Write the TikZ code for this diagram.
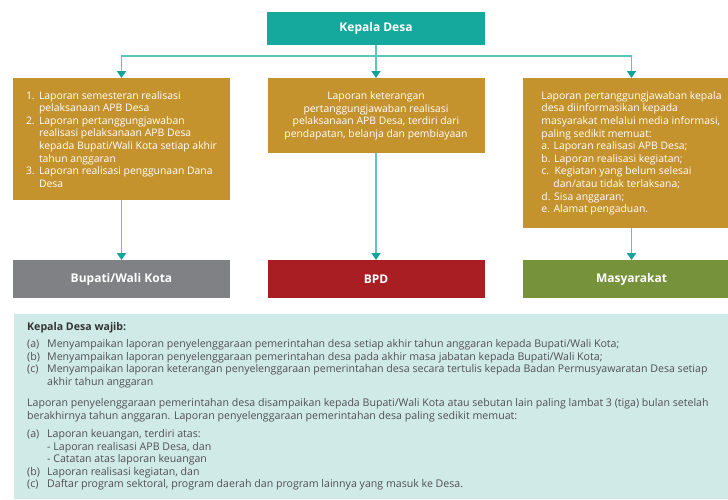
\documentclass[tikz,border=0pt]{standalone}
\usepackage{fontspec}
\setmainfont{Open Sans}
\usetikzlibrary{arrows.meta}

\definecolor{kadesteal}{HTML}{15A89D}
\definecolor{linkteal}{HTML}{5CC6BD}
\definecolor{tipteal}{HTML}{12A498}
\definecolor{gold}{HTML}{C4932E}
\definecolor{bupatigray}{HTML}{808184}
\definecolor{bpdred}{HTML}{A91E23}
\definecolor{masygreen}{HTML}{76933C}
\definecolor{panelteal}{HTML}{D0EAE8}
\definecolor{notegray}{HTML}{505052}
\definecolor{notedark}{HTML}{333333}

\begin{document}
\begin{tikzpicture}[x=1pt, y=-1pt,
  headbox/.style={minimum width=218pt, minimum height=33pt, inner sep=0pt,
    fill=kadesteal, text=white, font=\fontsize{12}{14}\selectfont\bfseries},
  reportbox/.style={minimum width=217pt, inner sep=0pt, fill=gold, text=white,
    font=\fontsize{10.4}{12.6}\selectfont},
  targetbox/.style={minimum width=217pt, minimum height=38pt, inner sep=0pt,
    text=white, font=\fontsize{12}{14}\selectfont\bfseries},
  conn/.style={draw=linkteal, line width=1.9pt,
    -{Triangle[width=9pt, length=7pt, color=tipteal]}},
  noteline/.style={anchor=base west, inner sep=0pt, text=notegray,
    font=\fontsize{10.6}{12.5}\selectfont}
]

\useasboundingbox (0,0) rectangle (728,499);
\clip (0,0) rectangle (728,499);

% ── TOP: Kepala Desa ──
\node[headbox, anchor=north] (kades) at (376,12) {Kepala Desa};

% ── MIDDLE: the three reports ──
\node[reportbox, anchor=north, minimum height=122pt, align=left] (lapbupati) at (121.5,78) {%
  \makebox[13pt][l]{1.}Laporan semesteran realisasi\\
  \hspace*{13pt}pelaksanaan APB Desa\\
  \makebox[13pt][l]{2.}Laporan pertanggungjawaban\\
  \hspace*{13pt}realisasi pelaksanaan APB Desa\\
  \hspace*{13pt}kepada Bupati/Wali Kota setiap akhir\\
  \hspace*{13pt}tahun anggaran\\
  \makebox[13pt][l]{3.}Laporan realisasi penggunaan Dana\\
  \hspace*{13pt}Desa};

\node[reportbox, anchor=north, minimum height=75pt, align=center] (lapbpd) at (376,78) {%
  Laporan keterangan\\
  pertanggungjawaban realisasi\\
  pelaksanaan APB Desa, terdiri dari\\
  pendapatan, belanja dan pembiayaan};

\node[reportbox, anchor=north, minimum height=150pt, align=left] (lapmasy) at (631.5,78) {%
  Laporan pertanggungjawaban kepala\\
  desa diinformasikan kepada\\
  masyarakat melalui media informasi,\\
  paling sedikit memuat:\\
  a. Laporan realisasi APB Desa;\\
  b. Laporan realisasi kegiatan;\\
  c.\ \ Kegiatan yang belum selesai\\
  \hspace*{12pt}dan/atau tidak terlaksana;\\
  d. Sisa anggaran;\\
  e. Alamat pengaduan.};

% ── BOTTOM: receivers ──
\node[targetbox, anchor=north, fill=bupatigray] (bupati) at (121.5,260) {Bupati/Wali Kota};
\node[targetbox, anchor=north, fill=bpdred] (bpd) at (376,260) {BPD};
\node[targetbox, anchor=north, fill=masygreen] (masy) at (631.5,260) {Masyarakat};

% Connectors
\coordinate (fork) at (376,56);
\draw[conn] (kades.south) -- (lapbpd.north);
\draw[conn] (fork) -| (lapbupati.north);
\draw[conn] (fork) -| (lapmasy.north);
\draw[conn] (lapbupati.south) -- (bupati.north);
\draw[conn] (lapbpd.south) -- (bpd.north);
\draw[conn] (lapmasy.south) -- (masy.north);

% ── NOTE PANEL ──
\fill[panelteal] (13.5,314) rectangle (740,499);

\node[noteline, text=notedark, font=\fontsize{10.6}{12.5}\selectfont\bfseries] (wajib) at (27,330) {Kepala Desa wajib:};
\node[noteline] (wajiba) at (27,347.5) {\makebox[20pt][l]{(a)}Menyampaikan laporan penyelenggaraan pemerintahan desa setiap akhir tahun anggaran kepada Bupati/Wali Kota;};
\node[noteline] (wajibb) at (27,360) {\makebox[20pt][l]{(b)}Menyampaikan laporan penyelenggaraan pemerintahan desa pada akhir masa jabatan kepada Bupati/Wali Kota;};
\node[noteline] (wajibc) at (27,372.5) {\makebox[20pt][l]{(c)}Menyampaikan laporan keterangan penyelenggaraan pemerintahan desa secara tertulis kepada Badan Permusyawaratan Desa setiap};
\node[noteline] (wajibcc) at (47,385) {akhir tahun anggaran};

\node[noteline] (parA) at (27,406.5) {Laporan penyelenggaraan pemerintahan desa disampaikan kepada Bupati/Wali Kota atau sebutan lain paling lambat 3 (tiga) bulan setelah};
\node[noteline] (parB) at (27,419) {berakhirnya tahun anggaran. Laporan penyelenggaraan pemerintahan desa paling sedikit memuat:};

\node[noteline] (muata) at (27,437.5) {\makebox[20pt][l]{(a)}Laporan keuangan, terdiri atas:};
\node[noteline] (muata1) at (47,450) {- Laporan realisasi APB Desa, dan};
\node[noteline] (muata2) at (47,462.5) {- Catatan atas laporan keuangan};
\node[noteline] (muatb) at (27,475) {\makebox[20pt][l]{(b)}Laporan realisasi kegiatan, dan};
\node[noteline] (muatc) at (27,487.5) {\makebox[20pt][l]{(c)}Daftar program sektoral, program daerah dan program lainnya yang masuk ke Desa.};

\end{tikzpicture}
\end{document}
